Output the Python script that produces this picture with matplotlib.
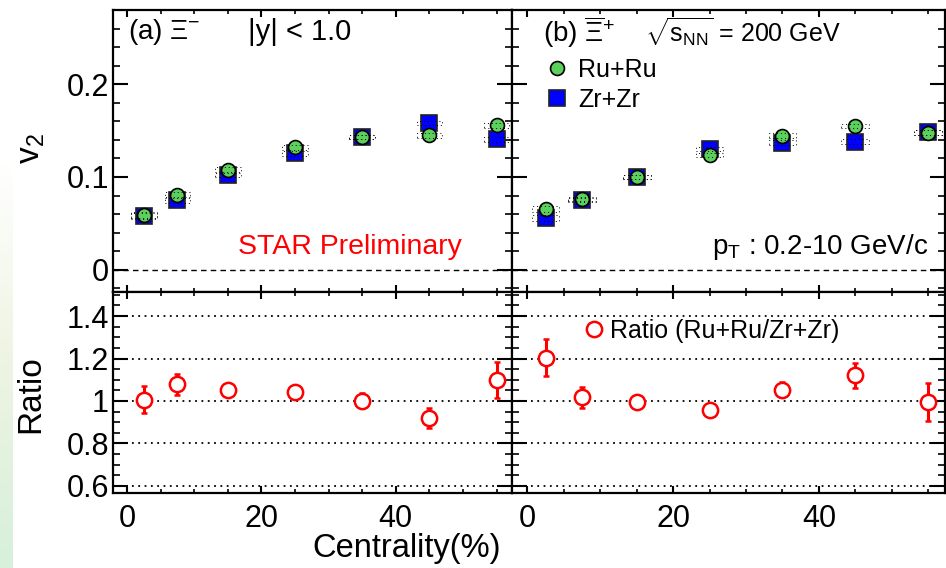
import matplotlib
matplotlib.use('Agg')
import matplotlib.pyplot as plt
import numpy as np
from matplotlib.lines import Line2D
from matplotlib.patches import Rectangle
from matplotlib.ticker import MultipleLocator, FixedLocator, FormatStrFormatter
from matplotlib.colors import LinearSegmentedColormap

plt.rcParams['font.family'] = ['Liberation Sans', 'DejaVu Sans']
plt.rcParams['mathtext.fontset'] = 'custom'
plt.rcParams['mathtext.rm'] = 'Liberation Sans'
plt.rcParams['mathtext.it'] = 'Liberation Sans:italic'
plt.rcParams['mathtext.bf'] = 'Liberation Sans:bold'
plt.rcParams['mathtext.default'] = 'regular'

# centrality bins (%)
cent = [2.5, 7.5, 15, 25, 35, 45, 55]

# (a) Xi-
v2_ru_a = [0.059, 0.0806, 0.108, 0.132, 0.1434, 0.145, 0.1556]
v2_zr_a = [0.058, 0.075, 0.102, 0.1254, 0.1434, 0.158, 0.1405]
sys_ru_a = [0.003, 0.003, 0.0025, 0.0025, 0.002, 0.0025, 0.0025]
sys_zr_a = [0.003, 0.003, 0.0025, 0.0025, 0.002, 0.0025, 0.0025]
ratio_a = [1.007, 1.079, 1.05, 1.041, 1.002, 0.922, 1.10]
ratio_err_a = [0.063, 0.05, 0.02, 0.02, 0.035, 0.047, 0.085]

# (b) anti-Xi+
v2_ru_b = [0.0656, 0.076, 0.1003, 0.1237, 0.1444, 0.155, 0.1477]
v2_zr_b = [0.0556, 0.0753, 0.1003, 0.130, 0.137, 0.138, 0.148]
sys_ru_b = [0.003, 0.002, 0.002, 0.0025, 0.0025, 0.0025, 0.0025]
sys_zr_b = [0.003, 0.002, 0.002, 0.0025, 0.0025, 0.0025, 0.0025]
ratio_b = [1.204, 1.017, 0.995, 0.956, 1.054, 1.121, 0.995]
ratio_err_b = [0.088, 0.05, 0.02, 0.02, 0.035, 0.06, 0.088]

green = '#5cd05c'
blue = '#0000ff'
red = '#ff0000'
box_hw = 1.9

W, H = 946, 568
fig = plt.figure(figsize=(W / 100, H / 100), dpi=100)

def px_axes(x0, x1, y0, y1):
    return fig.add_axes([x0 / W, 1 - y1 / H, (x1 - x0) / W, (y1 - y0) / H])

# decorative gradient strip on the left edge
strip = px_axes(0, 12, 160, 568)
cmap = LinearSegmentedColormap.from_list('strip', ['#ffffff', '#eef4e2', '#d6f0dc'])
strip.imshow(np.linspace(0, 1, 100).reshape(-1, 1), aspect='auto', cmap=cmap)
strip.axis('off')

ax_a = px_axes(113, 512, 10, 292)
ax_b = px_axes(512, 945, 10, 292)
rx_a = px_axes(113, 512, 292, 493)
rx_b = px_axes(512, 945, 292, 493)

def style(ax, top):
    ax.set_xlim(-2.1, 57.3)
    ax.xaxis.set_major_locator(MultipleLocator(20))
    ax.xaxis.set_minor_locator(MultipleLocator(5))
    if top:
        ax.set_ylim(-0.024, 0.28)
        ax.yaxis.set_major_locator(MultipleLocator(0.1))
        ax.yaxis.set_minor_locator(MultipleLocator(0.02))
    else:
        ax.set_ylim(0.567, 1.513)
        ax.yaxis.set_major_locator(FixedLocator([0.6, 0.8, 1.0, 1.2, 1.4]))
        ax.yaxis.set_minor_locator(MultipleLocator(0.05))
    ax.yaxis.set_major_formatter(FormatStrFormatter('%g'))
    ax.tick_params(axis='both', which='both', direction='in', top=True, right=True,
                   labelsize=22, colors='black')
    ax.tick_params(axis='y', which='major', length=10.8, width=1.5, pad=3)
    ax.tick_params(axis='y', which='minor', length=5.2, width=1.2)
    ax.tick_params(axis='x', which='major', length=5.0, width=1.5, pad=8)
    ax.tick_params(axis='x', which='minor', length=2.6, width=1.2)
    for s in ax.spines.values():
        s.set_linewidth(1.6)

for ax in (ax_a, ax_b):
    style(ax, True)
    ax.axhline(0, color='black', lw=1.0, ls=(0, (4, 3)), zorder=1)
    ax.tick_params(labelbottom=False)
for ax in (rx_a, rx_b):
    style(ax, False)
    for g in [0.6, 0.8, 1.0, 1.2, 1.4]:
        ax.axhline(g, color='black', lw=1.3, ls=(0, (1, 2.5)), zorder=1)
ax_b.tick_params(labelleft=False)
rx_b.tick_params(labelleft=False)

def draw_v2(ax, ru, zr, sru, szr):
    ax.plot(cent, zr, ls='none', marker='s', ms=12, mfc=blue, mec='#222222', mew=1.2, zorder=3)
    ax.plot(cent, ru, ls='none', marker='o', ms=10, mfc=green, mec='black', mew=1.2, zorder=4)
    for x, y, s in list(zip(cent, zr, szr)) + list(zip(cent, ru, sru)):
        ax.add_patch(Rectangle((x - box_hw, y - s), 2 * box_hw, 2 * s, fill=False,
                               ec='black', lw=0.7, ls=(0, (1, 3)), zorder=5))

draw_v2(ax_a, v2_ru_a, v2_zr_a, sys_ru_a, sys_zr_a)
draw_v2(ax_b, v2_ru_b, v2_zr_b, sys_ru_b, sys_zr_b)

def draw_ratio(ax, r, e):
    ax.errorbar(cent, r, yerr=e, fmt='o', ms=11, mfc='white', mec=red, mew=1.8,
                ecolor=red, elinewidth=2.2, capsize=2.5, capthick=3, zorder=4)

draw_ratio(rx_a, ratio_a, ratio_err_a)
draw_ratio(rx_b, ratio_b, ratio_err_b)

# texts
ax_a.text(0.038, 0.923, r'(a) $\Xi^{-}$', transform=ax_a.transAxes, fontsize=20, va='center')
ax_a.text(0.338, 0.923, '|y| < 1.0', transform=ax_a.transAxes, fontsize=21, va='center')
ax_a.text(0.313, 0.161, 'STAR Preliminary', transform=ax_a.transAxes, fontsize=20.5,
          color=red, va='center')

ax_b.text(0.072, 0.92, r'(b) $\overline{\Xi}^{+}$', transform=ax_b.transAxes, fontsize=20, va='center')
ax_b.text(0.307, 0.92, r'$\sqrt{s_{NN}}$ = 200 GeV', transform=ax_b.transAxes, fontsize=18, va='center')
ax_b.text(0.962, 0.16, r'p$_{T}$ : 0.2-10 GeV/c', transform=ax_b.transAxes, fontsize=20,
          va='center', ha='right')

h_ru = Line2D([], [], ls='none', marker='o', ms=10, mfc=green, mec='black', mew=1.2)
h_zr = Line2D([], [], ls='none', marker='s', ms=12, mfc=blue, mec='#222222', mew=1.2)
ax_b.legend([h_ru, h_zr], ['Ru+Ru', 'Zr+Zr'], loc='upper left', bbox_to_anchor=(0.075, 0.83),
            frameon=False, fontsize=18, handlelength=1.0, handletextpad=0.34,
            borderpad=0, borderaxespad=0, labelspacing=0.25)

h_r = Line2D([], [], ls='none', marker='o', ms=11, mfc='white', mec=red, mew=1.8)
rx_b.legend([h_r], ['Ratio (Ru+Ru/Zr+Zr)'], loc='center left', bbox_to_anchor=(0.16, 0.806),
            frameon=False, fontsize=18, handlelength=1.0, handletextpad=0.14,
            borderpad=0, borderaxespad=0)

fig.text(31 / W, 1 - 149 / H, r'v$_{2}$', rotation=90, fontsize=24, ha='center', va='center')
fig.text(31 / W, 1 - 394 / H, 'Ratio', rotation=90, fontsize=24, ha='center', va='center')
fig.text(407 / W, 1 - 548 / H, 'Centrality(%)', fontsize=23.5, ha='center', va='center')

fig.savefig('out.png', dpi=100)
